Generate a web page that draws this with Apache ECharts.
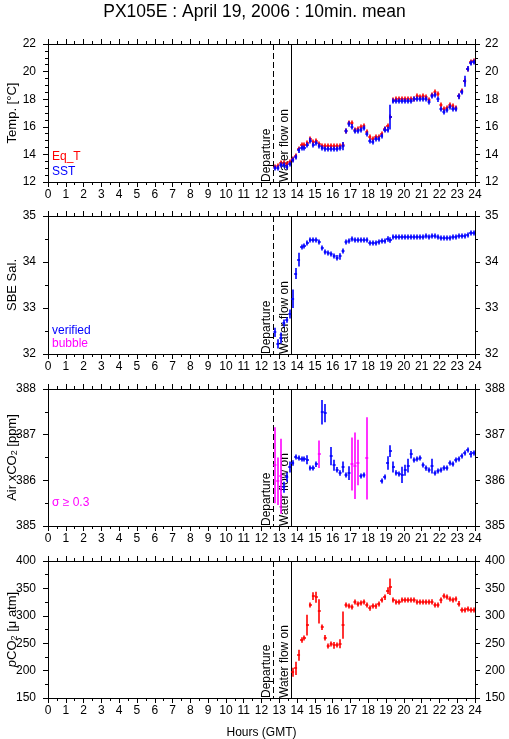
<!DOCTYPE html>
<html><head><meta charset="utf-8">
<script src="https://cdn.jsdelivr.net/npm/echarts@6/dist/echarts.min.js"></script>
<style>html,body{margin:0;padding:0;background:#fff}#c{width:509px;height:739px}</style>
</head><body><div id="c"></div>
<script>
const titleText = 'PX105E : April 19, 2006 : 10min. mean';
const xLabel = 'Hours (GMT)';
// start of each 10-minute averaging interval (GMT)
const times = ["12:40","12:50","13:00","13:10","13:20","13:30","13:40","13:50",
"14:00","14:10","14:20","14:30","14:40","14:50","15:00","15:10","15:20","15:30","15:40","15:50",
"16:00","16:10","16:20","16:30","16:40","16:50","17:00","17:10","17:20","17:30","17:40","17:50",
"18:00","18:10","18:20","18:30","18:40","18:50","19:00","19:10","19:20","19:30","19:40","19:50",
"20:00","20:10","20:20","20:30","20:40","20:50","21:00","21:10","21:20","21:30","21:40","21:50",
"22:00","22:10","22:20","22:30","22:40","22:50","23:00","23:10","23:20","23:30","23:40","23:50"];

const eqT = [13.1,13.15,13.35,13.35,13.3,13.45,13.7,13.9,
14.4,14.65,14.65,14.8,15.1,14.9,14.95,14.75,
14.6,14.6,14.6,14.6,14.6,14.6,14.6,14.65,
15.7,16.25,16.3,15.8,15.85,15.95,16.05,15.6,
15.25,15.1,15.25,15.25,15.45,15.85,16.05,16.7,
17.95,18.05,18.05,18.05,18.0,18.0,18.0,18.05,
18.2,18.15,18.2,18.15,17.95,18.3,18.5,18.35,
17.55,17.3,17.35,17.55,17.5,17.35,18.25,18.6,
19.35,20.2,20.7,20.75];
const eqTSd = [0.03,0.03,0.03,0.03,0.03,0.03,0.03,0.03,0.03,0.03,0.03,0.03,0.03,0.03,0.03,0.03,0.03,0.03,0.03,0.03,0.03,0.03,0.03,0.03,0.03,0.03,0.03,0.03,0.03,0.03,0.03,0.03,0.03,0.03,0.03,0.03,0.03,0.03,0.03,0.03,0.03,0.03,0.03,0.03,0.03,0.03,0.03,0.03,0.03,0.03,0.03,0.03,0.03,0.03,0.03,0.03,0.03,0.03,0.03,0.03,0.03,0.03,0.03,0.03,0.03,0.03,0.03,0.03];

const sst = [13.0,13.0,13.2,13.2,13.1,13.3,13.6,13.8,
14.3,14.5,14.5,14.7,15.0,14.7,14.8,14.6,
14.45,14.4,14.4,14.4,14.4,14.4,14.45,14.6,
15.7,16.2,16.0,15.7,15.7,15.8,15.9,15.5,
15.0,14.9,15.1,15.1,15.3,15.8,15.8,16.7,
17.9,17.9,17.9,17.9,17.9,17.9,17.9,18.0,
18.0,18.0,18.05,18.0,17.8,18.2,18.3,18.0,
17.3,17.1,17.2,17.4,17.3,17.3,18.2,18.5,
19.3,20.2,20.65,20.7];
const sstSd = [0.05,0.05,0.05,0.1,0.05,0.1,0.1,0.1,
0.2,0.1,0.05,0.1,0.2,0.1,0.05,0.05,
0.05,0.05,0.05,0.05,0.05,0.05,0.05,0.3,
0.1,0.2,0.2,0.1,0.05,0.05,0.1,0.1,
0.15,0.1,0.05,0.05,0.1,0.2,0.2,0.9,
0.05,0.05,0.05,0.05,0.05,0.05,0.05,0.05,
0.05,0.05,0.05,0.05,0.15,0.05,0.1,0.2,
0.15,0.05,0.05,0.05,0.1,0.1,0.2,0.1,
0.4,0.2,0.05,0.05];

const sal = [32.47,32.22,32.35,32.67,32.74,32.87,33.2,33.75,
34.05,34.32,34.34,34.41,34.48,34.48,34.47,34.44,
34.3,34.22,34.19,34.17,34.12,34.09,34.12,34.25,
34.43,34.46,34.5,34.48,34.48,34.48,34.48,34.47,
34.41,34.41,34.42,34.43,34.46,34.45,34.5,34.48,
34.54,34.54,34.54,34.54,34.54,34.54,34.54,34.54,
34.55,34.55,34.55,34.56,34.54,34.56,34.56,34.55,
34.53,34.52,34.52,34.52,34.55,34.55,34.56,34.57,
34.57,34.58,34.62,34.62];
const salSd = [0.1,0.1,0.12,0.08,0.06,0.1,0.2,0.12,
0.15,0.05,0.03,0.03,0.03,0.03,0.02,0.03,
0.03,0.02,0.02,0.02,0.03,0.06,0.07,0.03,
0.03,0.02,0.03,0.02,0.02,0.02,0.02,0.02,
0.04,0.02,0.02,0.02,0.02,0.05,0.06,0.06,
0.02,0.02,0.02,0.02,0.02,0.02,0.02,0.02,
0.02,0.02,0.02,0.02,0.02,0.02,0.02,0.02,
0.02,0.02,0.02,0.02,0.02,0.02,0.02,0.02,
0.02,0.02,0.02,0.02];

const airCO2 = [386.33,385.98,386.09,385.85,386.07,386.29,386.38,386.51,
386.49,386.47,386.47,386.45,386.28,386.27,386.35,386.57,
387.49,387.47,null,386.53,386.33,386.23,386.16,386.29,
386.11,386.16,386.36,386.32,386.39,386.09,386.11,386.48,
null,null,null,null,385.99,386.07,386.38,386.64,
386.29,386.17,386.13,386.12,386.22,386.32,386.58,386.45,
386.47,386.49,386.33,386.26,386.22,386.31,386.17,386.2,
386.23,386.27,386.28,386.38,386.35,386.45,386.47,386.54,
386.6,386.66,386.57,386.6];
const airSd = [0.83,0.52,0.82,0.12,0.1,0.12,0.06,0.04,
0.04,0.04,0.04,0.1,0.04,0.04,0.06,0.3,
0.27,0.2,null,0.2,0.12,0.06,0.06,0.12,
0.04,0.15,0.58,0.73,0.5,0.04,0.05,0.9,
null,null,null,null,0.04,0.04,0.15,0.13,
0.12,0.05,0.04,0.18,0.12,0.15,0.1,0.04,
0.05,0.05,0.05,0.05,0.04,0.16,0.04,0.04,
0.04,0.04,0.04,0.05,0.04,0.04,0.04,0.04,
0.04,0.05,0.07,0.05];

const pCO2 = [null,null,null,null,null,null,197,204,
228,256,260,283,319,336,334,308,
279,260,244,249,246,247,249,283,
319,317,316,325,322,323,325,320,
314,317,317,322,328,334,346,353,
328,326,326,328,328,328,328,328,
326,326,326,326,326,326,320,320,
328,336,334,331,328,331,322,311,
311,313,311,310];
const pCO2Sd = [null,null,null,null,null,null,8,12,
10,5,3,19,2,7,10,22,
5,5,2,4,6,3,8,25,
2,2,4,2,2,2,4,2,
5,2,4,4,2,5,6,15,
2,2,2,2,2,2,2,2,
2,2,2,2,2,4,2,2,
5,2,2,2,2,2,5,2,
2,2,2,2];

const eventNames = ['Departure','Water flow on'];
const eventTimes = ['12:40','13:41'];
const eventDashed = [1,0];

const yNames = ['Temp. [°C]','SBE Sal.','Air xCO{s|2} [ppm]','{i|p}CO{s|2} [μ atm]'];
const yMin = [12,32,385,150], yMax = [22,35,388,400], yInt = [2,1,1,50], yMinorSplit = [4,2,2,2];

const STEP = 10/60;
function hr(s){const p=s.split(':');return +p[0]+(+p[1])/60;}

const FONT = "'Liberation Sans', Arial, Helvetica, sans-serif";
const panelTop = [44,216,389,561];
const panelH = [138,138,137,137];

const grids=[], xAxes=[], yAxes=[], series=[];
for(let g=0; g<4; g++){
  grids.push({left:48, width:427, top:panelTop[g], height:panelH[g], containLabel:false, outerBoundsMode:'none'});
  const xBase = {type:'value', gridIndex:g, min:0, max:24, interval:1,
    axisLine:{show:true,onZero:false,lineStyle:{color:'#000',width:1}},
    axisTick:{show:true,length:5,lineStyle:{color:'#000'}},
    minorTick:{show:true,splitNumber:2,length:3,lineStyle:{color:'#000'}},
    splitLine:{show:false}, minorSplitLine:{show:false}};
  xAxes.push(Object.assign({}, xBase, {position:'bottom',
    axisLabel:{show:true,color:'#000',fontSize:12,fontFamily:FONT,margin:7},
    name: g===3 ? xLabel : '', nameLocation:'middle', nameGap:29,
    nameTextStyle:{color:'#000',fontSize:12,fontFamily:FONT}}));
  xAxes.push(Object.assign({}, xBase, {position:'top', axisLabel:{show:false}}));
  const yBase = {type:'value', gridIndex:g, min:yMin[g], max:yMax[g], interval:yInt[g],
    axisLine:{show:true,onZero:false,lineStyle:{color:'#000',width:1}},
    axisTick:{show:true,length:5,lineStyle:{color:'#000'}},
    minorTick:{show:true,splitNumber:yMinorSplit[g],length:3,lineStyle:{color:'#000'}},
    splitLine:{show:false}, minorSplitLine:{show:false}};
  yAxes.push(Object.assign({}, yBase, {position:'left',
    axisLabel:{color:'#000',fontSize:12,fontFamily:FONT,margin:12}}));
  yAxes.push(Object.assign({}, yBase, {position:'right',
    axisLabel:{color:'#000',fontSize:12,fontFamily:FONT,margin:10}}));

  // event lines
  series.push({type:'custom', xAxisIndex:2*g, yAxisIndex:2*g, silent:true, animation:false, z:1,
    data: eventTimes.map((t,i)=>[hr(t), eventDashed[i]]),
    encode:{x:0,y:1},
    renderItem:function(params, api){
      const cs = params.coordSys;
      const x = Math.round(api.coord([api.value(0), yMin[g]])[0]) + 0.5;
      const dashed = api.value(1) === 1;
      return {type:'group', children:[
        {type:'line', shape:{x1:x,y1:cs.y,x2:x,y2:cs.y+cs.height},
          style:{stroke:'#000',lineWidth:1,lineDash:dashed?[6,3]:null}},
        {type:'text', x:x-0.5, y:cs.y+cs.height, rotation:Math.PI/2,
          style:{text:eventNames[params.dataIndex], fill:'#000', font:'12px '+FONT,
            align:'left', verticalAlign:'bottom'}}
      ]};
    }});
}

function crossSeries(g, vals, sds, colorFn, z){
  const data=[];
  for(let i=0;i<times.length;i++){ if(vals[i]==null) continue; data.push([hr(times[i]), vals[i], sds[i]]); }
  return {type:'custom', xAxisIndex:2*g, yAxisIndex:2*g, data, z, silent:true, animation:false,
    encode:{x:0,y:1},
    renderItem:function(params, api){
      const t=api.value(0), v=api.value(1), sd=api.value(2);
      const a=api.coord([t,v]), b=api.coord([t+STEP,v]);
      const y=Math.round(a[1]);
      const cx=Math.round((a[0]+b[0])/2);
      const yt=api.coord([t,v+sd])[1], yb=api.coord([t,v-sd])[1];
      const c=colorFn(sd);
      return {type:'group', children:[
        {type:'line', shape:{x1:a[0],y1:y,x2:b[0],y2:y}, style:{stroke:c,lineWidth:1.6}},
        {type:'line', shape:{x1:cx,y1:Math.min(yt,y-2.5),x2:cx,y2:Math.max(yb,y+2.5)}, style:{stroke:c,lineWidth:1.6}}
      ]};
    }};
}
series.push(crossSeries(0, eqT, eqTSd, ()=>'#ff0000', 2));
series.push(crossSeries(0, sst, sstSd, ()=>'#0000ff', 3));
series.push(crossSeries(1, sal, salSd, ()=>'#0000ff', 3));
series.push(crossSeries(2, airCO2, airSd, sd=>sd>=0.3?'#ff00ff':'#0000ff', 3));
series.push(crossSeries(3, pCO2, pCO2Sd, ()=>'#ff0000', 3));

const legendTexts = [
  {t:'Eq_T', c:'#ff0000', x:52, y:151},
  {t:'SST', c:'#0000ff', x:52, y:166},
  {t:'verified', c:'#0000ff', x:52, y:325},
  {t:'bubble', c:'#ff00ff', x:52, y:338},
  {t:'σ ≥ 0.3', c:'#ff00ff', x:52, y:497}
];

const graphics = legendTexts.map(l=>({type:'text', left:l.x, top:l.y, silent:true,
    style:{text:l.t, fill:l.c, font:'12px '+FONT}}));
for(let g=0; g<4; g++){
  graphics.push({type:'text', x:12.5, y:panelTop[g]+panelH[g]/2, rotation:Math.PI/2, silent:true,
    style:{text:yNames[g], fill:'#000', font:'13px '+FONT, align:'center', verticalAlign:'middle',
      rich:{s:{fontSize:9,fontFamily:FONT,fill:'#000',padding:[5,0,0,0]},
            i:{fontSize:13,fontStyle:'italic',fontFamily:FONT,fill:'#000'}}}});
}

const chart = echarts.init(document.getElementById('c'), null, {renderer:'canvas'});
chart.setOption({
  backgroundColor:'#fff',
  animation:false,
  title:{text:titleText, left:'center', top:-2,
    textStyle:{color:'#000',fontSize:17.5,fontWeight:'normal',fontFamily:FONT}},
  grid:grids, xAxis:xAxes, yAxis:yAxes, series:series,
  graphic: graphics
});
</script></body></html>
